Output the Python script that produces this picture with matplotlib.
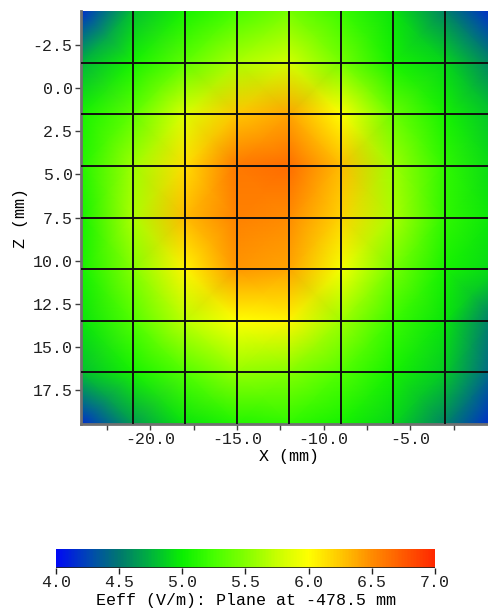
import matplotlib
matplotlib.use("Agg")
import numpy as np
import matplotlib.pyplot as plt
from matplotlib.colors import LinearSegmentedColormap
from matplotlib.ticker import MultipleLocator, FormatStrFormatter

# Measurement grid (mm)
x_mm = [-24, -21, -18, -15, -12, -9, -6, -3, 0]
z_mm = [-4.5, -1.5, 1.5, 4.5, 7.5, 10.5, 13.5, 16.5, 19.5]

# Eeff (V/m) at each grid node, one row per z position
eeff = [
    [4.15, 4.80, 5.05, 5.25, 5.45, 5.20, 4.95, 4.55, 4.10],
    [4.75, 5.05, 5.35, 5.65, 5.80, 5.45, 5.05, 4.90, 4.50],
    [5.05, 5.35, 5.85, 6.25, 6.40, 6.00, 5.40, 5.05, 4.80],
    [5.10, 5.60, 6.15, 6.60, 6.65, 6.30, 5.60, 5.15, 4.90],
    [5.05, 5.65, 6.30, 6.55, 6.50, 6.20, 5.65, 5.15, 4.95],
    [5.05, 5.50, 6.05, 6.45, 6.40, 5.95, 5.45, 5.05, 4.90],
    [4.95, 5.30, 5.70, 6.00, 6.05, 5.60, 5.20, 4.95, 4.45],
    [4.80, 5.05, 5.30, 5.55, 5.50, 5.30, 5.05, 4.85, 4.35],
    [4.15, 4.65, 4.95, 5.10, 5.15, 5.05, 4.90, 4.55, 4.10],
]

# Colour scale
scale_min, scale_max = 4.0, 7.0
scale_ticks = [4.0, 4.5, 5.0, 5.5, 6.0, 6.5, 7.0]
scale_stops = [4.0, 4.25, 4.5, 4.75, 5.0, 5.25, 5.5, 5.75, 6.0, 6.25, 6.5, 6.75, 7.0]
scale_colors = ['#0008f5', '#0046b4', '#00786e', '#00b43c', '#0af000', '#46ff00',
                '#82ff00', '#c8ff00', '#ffff00', '#ffc800', '#ff8c00', '#ff5a00',
                '#ff2800']

plt.rcParams['font.family'] = ['Liberation Mono', 'DejaVu Sans Mono']
plt.rcParams['font.size'] = 12
plt.rcParams['text.color'] = '#202020'
plt.rcParams['xtick.color'] = '#404040'
plt.rcParams['ytick.color'] = '#404040'
plt.rcParams['xtick.labelcolor'] = '#202020'
plt.rcParams['ytick.labelcolor'] = '#202020'

cmap = LinearSegmentedColormap.from_list(
    'eeff',
    [((s - scale_min) / (scale_max - scale_min), c) for s, c in zip(scale_stops, scale_colors)],
    N=256)

W, H = 489, 610
fig = plt.figure(figsize=(W / 100, H / 100), dpi=100)

ax = fig.add_axes([81 / W, (H - 424) / H, (497 - 81) / W, 413 / H])
X, Z = np.meshgrid(x_mm, z_mm)
V = np.array(eeff)
mesh = ax.pcolormesh(X, Z, V, shading='gouraud', cmap=cmap,
                     vmin=scale_min, vmax=scale_max, rasterized=True)

# grid through the measurement nodes
for xv in x_mm[1:-1]:
    ax.axvline(xv, color='#101010', lw=1.4, zorder=3)
for zv in z_mm[1:-1]:
    ax.axhline(zv, color='#101010', lw=1.4, zorder=3)

ax.set_xlim(x_mm[0], x_mm[-1])
ax.set_ylim(z_mm[-1], z_mm[0])

ax.xaxis.set_minor_locator(MultipleLocator(2.5))
ax.xaxis.set_major_formatter(FormatStrFormatter('%.1f'))
ax.yaxis.set_major_formatter(FormatStrFormatter('%.1f'))
ax.set_xticks([-20, -15, -10, -5])
ax.set_yticks([-2.5, 0, 2.5, 5, 7.5, 10, 12.5, 15, 17.5])
ax.tick_params(axis='both', which='both', direction='out', length=4, width=1, pad=2)

for side in ('top', 'right'):
    ax.spines[side].set_visible(False)
for side in ('left', 'bottom'):
    ax.spines[side].set_color('#707070')
    ax.spines[side].set_linewidth(2)

ax.set_xlabel('X (mm)', labelpad=1)
ax.set_ylabel('Z (mm)', labelpad=3)

# colour bar
cax = fig.add_axes([56 / W, (H - 568) / H, (435 - 56) / W, 19 / H])
cb = fig.colorbar(mesh, cax=cax, orientation='horizontal')
cb.set_ticks(scale_ticks)
cb.ax.xaxis.set_major_formatter(FormatStrFormatter('%.1f'))
cb.outline.set_visible(False)
cb.ax.tick_params(direction='out', length=4, width=1, pad=1, color='#202020')
cb.ax.axhline(0, color='#202020', lw=1.2)
cb.set_label('Eeff (V/m): Plane at -478.5 mm', labelpad=2)

fig.savefig('out.png', dpi=100)
